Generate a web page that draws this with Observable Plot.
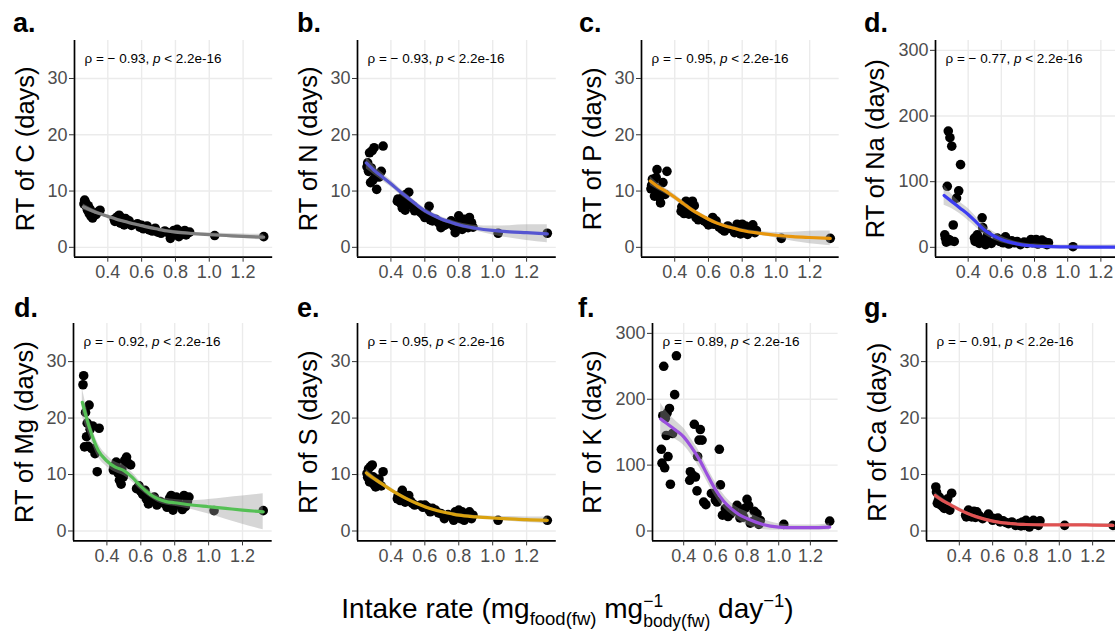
<!DOCTYPE html>
<html><head><meta charset="utf-8">
<script src="https://cdn.jsdelivr.net/npm/d3@7"></script>
<script src="https://cdn.jsdelivr.net/npm/@observablehq/plot@0.6"></script>
<style>
html,body{margin:0;padding:0;background:#fff;}
#fig{position:relative;width:1115px;height:632px;overflow:hidden;background:#fff;font-family:"Liberation Sans",Arial,sans-serif;}
.tag{position:absolute;font-weight:bold;font-size:27px;line-height:27px;color:#000;}
#xtitle{position:absolute;left:10px;width:1115px;text-align:center;font-size:28px;line-height:30px;color:#000;white-space:nowrap;}
.sb{font-size:18.5px;vertical-align:-7px;}
.sp{font-size:18.5px;vertical-align:11px;}
.stack{display:inline-flex;flex-direction:column;align-items:flex-start;font-size:17.5px;line-height:19.5px;vertical-align:11px;}
</style></head>
<body><div id="fig"></div>
<script>
// ---- data ----
const intake = [0.259,0.263,0.268,0.274,0.280,0.284,0.290,0.295,0.301,0.310,0.316,0.330,0.343,0.354,
  0.438,0.442,0.455,0.467,0.474,0.484,0.488,0.497,0.505,0.516,0.526,0.540,
  0.575,0.589,0.600,0.611,0.625,0.632,0.645,0.663,0.680,0.695,0.715,0.737,
  0.755,0.770,0.779,0.790,0.800,0.810,0.820,0.832,0.845,0.855,0.863,0.875,0.884,
  1.032,1.322];
const rtC = [7.7,8.4,8.0,7.2,6.6,7.4,6.0,6.8,5.5,5.2,6.1,5.8,6.3,6.6,
  5.0,4.6,5.4,5.7,4.3,5.2,4.8,4.0,5.1,4.4,4.7,3.9,
  4.2,3.6,3.9,3.3,3.5,3.8,3.1,2.9,3.4,2.7,2.5,2.9,
  2.6,1.6,2.2,3.0,2.4,3.2,1.9,2.8,2.4,3.0,2.2,2.6,2.7,
  2.1,1.9];
const rtN = [14.3,15.0,13.5,16.8,11.5,14.1,17.2,12.0,17.7,13.0,10.3,12.5,13.5,18.0,
  8.2,8.6,7.9,7.0,9.0,6.6,9.4,8.0,9.8,7.6,7.4,6.5,
  6.2,5.8,5.3,6.0,7.3,4.9,4.7,5.0,4.4,3.5,3.9,4.2,
  4.7,3.7,2.6,4.2,5.6,4.4,3.2,5.0,4.7,3.5,5.3,4.4,3.6,
  2.5,2.5];
const rtP = [10.4,11.0,12.1,11.8,9.1,10.6,12.4,13.8,9.8,8.8,7.9,11.5,9.4,13.5,
  6.4,7.2,6.0,8.2,7.6,5.9,7.0,6.5,8.2,7.4,5.3,4.9,
  4.7,4.4,4.0,4.6,5.3,4.1,4.7,3.6,3.2,2.9,3.8,3.3,
  2.6,4.1,3.2,2.4,4.1,2.9,3.8,2.3,3.5,2.9,4.0,2.6,3.0,
  1.6,1.6];
const rtNa = [19,14,8,93,177,12,167,10,154,34,9,75,86,126,
  14,9,19,6,12,45,30,9,4,19,8,6,
  14,9,12,7,16,9,5,10,7,9,4,8,
  6,9,12,7,10,12,5,9,11,6,8,4,7,
  1,1];
const rtMg = [25.9,27.5,14.9,21.0,16.7,19.1,15.0,22.3,18.0,14.6,18.6,13.7,10.5,18.2,
  10.8,11.5,12.2,10.2,9.0,8.3,11.0,9.6,12.5,13.1,12.0,11.7,
  7.5,8.0,7.0,6.5,7.2,5.7,4.8,5.4,6.0,4.6,5.2,4.9,
  4.2,5.8,6.3,3.7,4.5,6.0,5.5,4.6,3.8,6.3,4.3,5.2,6.0,
  3.6,3.6];
const rtS = [10.2,9.5,11.0,8.7,11.4,9.0,11.7,9.6,8.2,7.8,8.5,9.2,8.0,10.5,
  5.7,6.2,5.4,7.2,6.5,5.1,5.6,6.0,6.3,5.3,4.9,4.6,
  4.6,4.2,4.6,4.3,3.7,3.4,4.0,3.7,3.2,3.1,2.2,2.9,
  2.6,1.9,3.4,2.5,3.7,2.2,3.4,1.9,3.0,2.5,3.4,2.2,2.8,
  1.9,1.9];
const rtK = [124,103,175,250,96,171,145,179,113,186,71,148,207,266,
  77,90,85,162,82,61,113,138,154,138,44,40,
  57,57,47,44,124,70,24,34,22,26,30,39,
  20,28,21,35,48,39,12,14,30,18,26,10,16,
  10,15];
const rtCa = [7.8,6.9,4.9,5.4,6.0,5.0,4.6,5.2,4.3,4.0,5.0,5.7,3.7,6.7,
  2.8,2.5,3.7,3.2,2.5,2.9,3.5,2.4,3.4,2.8,2.5,2.2,
  3.0,2.4,1.9,2.2,2.0,2.3,1.6,1.8,1.5,1.3,1.6,1.0,
  1.3,0.9,1.6,1.0,1.9,1.3,0.7,1.5,1.9,1.2,1.6,1.0,1.8,
  1.0,1.0];

// loess fits, with half-widths of the confidence band
const fitX = [0.255,0.3,0.35,0.4,0.45,0.5,0.55,0.6,0.65,0.7,0.75,0.8,0.9,1.0,1.1,1.2,1.322];
const fitC  = [7.2,6.6,6.0,5.5,5.0,4.6,4.2,3.85,3.5,3.2,2.9,2.7,2.45,2.25,2.1,1.95,1.8];
const bandC = [0.5,0.4,0.3,0.3,0.25,0.25,0.25,0.25,0.25,0.25,0.25,0.25,0.25,0.3,0.35,0.4,0.5];
const fitN  = [15.0,13.7,12.5,11.3,10.0,8.8,7.6,6.5,5.7,5.0,4.5,4.0,3.4,3.0,2.75,2.6,2.4];
const bandN = [1.1,0.8,0.7,0.6,0.55,0.5,0.45,0.45,0.4,0.4,0.4,0.4,0.5,0.8,1.1,1.4,1.6];
const fitP  = [11.8,10.8,9.9,8.9,7.8,6.7,5.8,5.0,4.3,3.8,3.4,3.0,2.5,2.15,1.9,1.75,1.6];
const bandP = [0.8,0.6,0.5,0.5,0.45,0.4,0.35,0.35,0.3,0.3,0.3,0.3,0.35,0.5,0.8,1.1,1.3];
const fitNa  = [79,70,60,50,38,26,18,12,8,5,3,2,1,0.6,0.4,0.4,0.5];
const bandNa = [15,11,9,9,8,7,6,5,4,3,3,3,3,3,3,3,4];
const fitMg  = [22.8,18.0,14.2,12.4,11.3,10.7,9.5,7.9,6.6,5.7,5.2,5.0,4.6,4.3,4.0,3.7,3.4];
const bandMg = [2.5,1.5,1.2,1.0,0.9,0.9,0.8,0.7,0.6,0.6,0.6,0.6,0.8,1.3,1.9,2.5,3.2];
const fitS  = [10.3,9.3,8.3,7.3,6.4,5.6,4.9,4.3,3.8,3.4,3.1,2.8,2.5,2.3,2.15,2.0,1.9];
const bandS = [0.6,0.45,0.4,0.35,0.3,0.3,0.3,0.25,0.25,0.25,0.25,0.25,0.25,0.3,0.4,0.5,0.6];
const fitK  = [170,162,153,143,127,108,85,63,46,34,25,19,10,6,5,5,6];
const bandK = [24,17,14,13,12,12,11,11,10,9,9,10,8,5,4,4,5];
const fitCa  = [6.3,5.4,4.6,3.8,3.1,2.55,2.1,1.75,1.5,1.35,1.2,1.15,1.1,1.1,1.1,1.05,1.0];
const bandCa = [0.5,0.4,0.3,0.3,0.25,0.25,0.2,0.2,0.2,0.2,0.2,0.2,0.2,0.2,0.25,0.3,0.35];

const tags   = ["a.","b.","c.","d.","d.","e.","f.","g."];
const labels = ["RT of C (days)","RT of N (days)","RT of P (days)","RT of Na (days)",
                "RT of Mg (days)","RT of S (days)","RT of K (days)","RT of Ca (days)"];
const rhos   = ["\u2212 0.93","\u2212 0.93","\u2212 0.95","\u2212 0.77","\u2212 0.92","\u2212 0.95","\u2212 0.89","\u2212 0.91"];
const pText  = "2.2e-16";
const xTicks = [0.4,0.6,0.8,1.0,1.2];
const yTicksSmall = [0,10,20,30];
const yTicksLarge = [0,100,200,300];
const xDomain = [0.203,1.375];
const yDomainSmall = [-1.75,36.75];
const yDomainLarge = [-15,315];

const series = [
  {y: rtC, fit: fitC, band: bandC, large: false, color: "#7f7f7f"},
  {y: rtN, fit: fitN, band: bandN, large: false, color: "#5656d1"},
  {y: rtP, fit: fitP, band: bandP, large: false, color: "#e8960c"},
  {y: rtNa, fit: fitNa, band: bandNa, large: true, color: "#3c3cf2"},
  {y: rtMg, fit: fitMg, band: bandMg, large: false, color: "#55c055"},
  {y: rtS, fit: fitS, band: bandS, large: false, color: "#daa20f"},
  {y: rtK, fit: fitK, band: bandK, large: true, color: "#9a4fde"},
  {y: rtCa, fit: fitCa, band: bandCa, large: false, color: "#e05252"}
];

// ---- layout (pixel frame of each panel) ----
const frames = [
  {L: 73.7, R: 271.9, T: 40, B: 256.7, tx: 13, ty: 10},
  {L: 356.6, R: 555.4, T: 40, B: 256.7, tx: 297, ty: 10},
  {L: 640.8, R: 838.5, T: 40, B: 256.7, tx: 579, ty: 10},
  {L: 934.6, R: 1129, T: 40, B: 256.7, tx: 864, ty: 10},
  {L: 73.3, R: 272, T: 323.3, B: 540.7, tx: 14, ty: 295},
  {L: 356.6, R: 555.4, T: 323.3, B: 540.7, tx: 297, ty: 295},
  {L: 652.1, R: 837.7, T: 323.3, B: 540.7, tx: 578, ty: 295},
  {L: 925.5, R: 1120.8, T: 323.3, B: 540.7, tx: 864, ty: 295}
];

const fig = document.getElementById("fig");
const FONT = '"Liberation Sans", Arial, sans-serif';

series.forEach((s, k) => {
  const f = frames[k];
  const ml = 75, mr = 12, mt = 8, mb = 36;
  const yDomain = s.large ? yDomainLarge : yDomainSmall;
  const yTicks = s.large ? yTicksLarge : yTicksSmall;
  const pts = intake.map((x, i) => ({x, y: s.y[i]}));
  const fit = fitX.map((x, i) => ({x, y: s.fit[i], lo: s.fit[i] - s.band[i], hi: s.fit[i] + s.band[i]}));
  const svg = Plot.plot({
    width: (f.R - f.L) + ml + mr,
    height: (f.B - f.T) + mt + mb,
    marginLeft: ml, marginRight: mr, marginTop: mt, marginBottom: mb,
    x: {domain: xDomain, label: null},
    y: {domain: yDomain, label: null},
    style: {background: "transparent", overflow: "visible", maxWidth: "none", fontFamily: FONT},
    marks: [
      Plot.gridX(xTicks, {stroke: "#ebebeb", strokeOpacity: 1, strokeWidth: 1.4}),
      Plot.gridY(yTicks, {stroke: "#ebebeb", strokeOpacity: 1, strokeWidth: 1.4}),
      Plot.dot(pts, {x: "x", y: "y", r: 4.8, fill: "#000", stroke: null}),
      Plot.areaY(fit, {x: "x", y1: "lo", y2: "hi", fill: "#999999", fillOpacity: 0.4, curve: "monotone-x"}),
      Plot.line(fit, {x: "x", y: "y", stroke: s.color, strokeWidth: 3.2, curve: "monotone-x"}),
      Plot.ruleX([xDomain[0]], {stroke: "#000", strokeWidth: 1.7}),
      Plot.ruleY([yDomain[0]], {stroke: "#000", strokeWidth: 1.7}),
      Plot.axisX(xTicks, {tickSize: 5, tickPadding: 3, fontSize: 18, fill: "#4d4d4d", stroke: "#333", tickFormat: d3.format(".1f"), label: null}),
      Plot.axisY(yTicks, {tickSize: 5, tickPadding: 2, fontSize: 18, fill: "#4d4d4d", stroke: "#333", label: null}),
      Plot.text([labels[k]], {frameAnchor: "left", textAnchor: "middle", rotate: -90, dx: s.large ? -60 : -49, fontSize: 25.5, fill: "#000"}),
      Plot.text([`\u03c1 = ${rhos[k]}, p < ${pText}`], {frameAnchor: "top-left", dx: 10, dy: 12.5, fontSize: 13.5, textAnchor: "start", fill: "#000"})
    ]
  });
  // italic p in the correlation label
  svg.querySelectorAll("text").forEach(t => {
    const m = t.textContent.match(/^(\u03c1 = .*, )p( < .*)$/);
    if (m) {
      t.textContent = "";
      t.append(document.createTextNode(m[1]));
      const ts = document.createElementNS("http://www.w3.org/2000/svg", "tspan");
      ts.setAttribute("font-style", "italic");
      ts.textContent = "p";
      t.append(ts);
      t.append(document.createTextNode(m[2]));
    }
  });
  svg.style.position = "absolute";
  svg.style.left = (f.L - ml) + "px";
  svg.style.top = (f.T - mt) + "px";
  fig.appendChild(svg);

  const tag = document.createElement("div");
  tag.className = "tag";
  tag.textContent = tags[k];
  tag.style.left = f.tx + "px";
  tag.style.top = f.ty + "px";
  fig.appendChild(tag);
});

const xt = document.createElement("div");
xt.id = "xtitle";
xt.style.top = "586px";
xt.innerHTML = 'Intake rate (mg<span class="sb">food(fw)</span> mg<span class="stack"><span>\u22121</span><span>body(fw)</span></span> day<span class="sp">\u22121</span>)';
fig.appendChild(xt);
</script></body></html>
